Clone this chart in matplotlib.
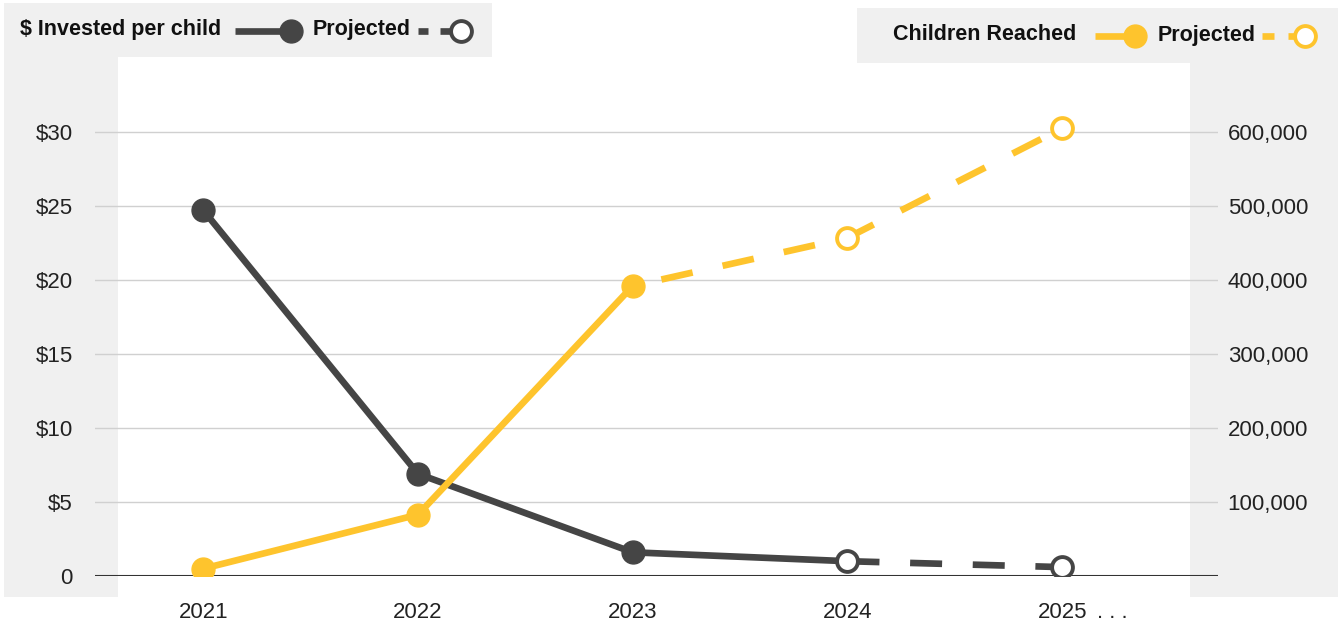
import matplotlib.pyplot as plt
from matplotlib.patches import Rectangle
from matplotlib.lines import Line2D
from matplotlib.ticker import FuncFormatter

# ----------------------------
# Data
# ----------------------------
years = ["2021", "2022", "2023", "2024", "2025"]
invested_per_child = [24.7, 6.9, 1.6, 1.0, 0.6]            # dollars
children_reached = [10000, 83000, 392000, 457000, 605000]   # children
last_actual = 2       # 2023 is the last actual year
last_solid_invest = 3  # invested line stays solid up to 2024

DARK = "#454545"
YELLOW = "#fec42d"
PANEL = "#f0f0f0"

plt.rcParams["font.family"] = ["Liberation Sans", "DejaVu Sans"]

W, H = 1338, 625
fig = plt.figure(figsize=(W / 100, H / 100), dpi=100)


def px_rect(x0, y0, x1, y1):
    # rectangle from pixel coords (top-left origin) in figure fraction
    return Rectangle((x0 / W, 1 - y1 / H), (x1 - x0) / W, (y1 - y0) / H,
                     transform=fig.transFigure, facecolor=PANEL,
                     edgecolor="none", zorder=-5)


# gray side panels and legend boxes
for r in [(4, 3, 118, 597), (4, 3, 492, 57),
          (1190, 8, 1338, 597), (857, 8, 1338, 63)]:
    fig.patches.append(px_rect(*r))

# axes placement
ymax = 33.0
ax = fig.add_axes([95 / W, (H - 576) / H, (1218 - 95) / W, (576 - 87.6) / H])
ax.set_facecolor("none")
ax2 = ax.twinx()
ax2.set_facecolor("none")

x = list(range(len(years)))
ax.set_xlim(-0.505, 4.726)
ax.set_ylim(0, ymax)
ax2.set_ylim(0, ymax * 20000)

for a in (ax, ax2):
    for s in a.spines.values():
        s.set_visible(False)

ax.axhline(0, color="#333333", lw=1.5, zorder=1)
ax.set_yticks([0, 5, 10, 15, 20, 25, 30])
ax.yaxis.set_major_formatter(FuncFormatter(lambda v, p: "0" if v == 0 else f"${v:.0f}"))
ax.grid(axis="y", color="#d0d0d0", lw=1)
ax.set_axisbelow(True)
ax.tick_params(axis="y", length=0, pad=16, labelsize=16, labelcolor="#222222")
ax.set_xticks(x)
ax.set_xticklabels(years)
ax.tick_params(axis="x", length=0, pad=19, labelsize=16, labelcolor="#222222")
ax.annotate(". . .", xy=(4, 0), xycoords=("data", "axes fraction"),
            xytext=(25, -19), textcoords="offset points", ha="left", va="top",
            fontsize=16, color="#222222")

ax2.set_yticks([100000, 200000, 300000, 400000, 500000, 600000])
ax2.yaxis.set_major_formatter(FuncFormatter(lambda v, p: f"{v:,.0f}"))
ax2.tick_params(axis="y", length=0, pad=7, labelsize=16, labelcolor="#222222")

lw = 4.8
ms = 16.5
dash = (0, (4.8, 4.6))

# $ invested per child (dark)
ax.plot(x[:last_solid_invest + 1], invested_per_child[:last_solid_invest + 1],
        color=DARK, lw=lw, solid_capstyle="butt", zorder=3)
ax.plot(x[last_solid_invest:], invested_per_child[last_solid_invest:],
        color=DARK, lw=lw, linestyle=dash, zorder=3)
ax.plot(x[:last_actual + 1], invested_per_child[:last_actual + 1], "o",
        color=DARK, ms=ms, zorder=4)
ax.plot(x[last_actual + 1:], invested_per_child[last_actual + 1:], "o",
        mfc="white", mec=DARK, mew=2.8, ms=ms - 1.5, zorder=4)

# children reached (yellow)
ax2.plot(x[:last_actual + 1], children_reached[:last_actual + 1],
         color=YELLOW, lw=lw, zorder=3)
ax2.plot(x[last_actual:], children_reached[last_actual:],
         color=YELLOW, lw=lw, linestyle=(5, (4.8, 4.6)), zorder=3)
ax2.plot(x[:last_actual + 1], children_reached[:last_actual + 1], "o",
         color=YELLOW, ms=ms, zorder=4)
ax2.plot(x[last_actual + 1:], children_reached[last_actual + 1:], "o",
         mfc="white", mec=YELLOW, mew=2.8, ms=ms - 1.5, zorder=4)


# ----------------------------
# Legends, drawn by hand
# ----------------------------
def fx(px):
    return px / W


def fy(py):
    return 1 - py / H


def seg(x0, x1, y, color):
    fig.add_artist(Line2D([fx(x0), fx(x1)], [fy(y), fy(y)], color=color, lw=lw,
                          solid_capstyle="butt", transform=fig.transFigure))


def legend_row(y, title, x_title, x_line, x_dot, x_proj, x_dash, x_stub, x_open, color):
    fig.text(fx(x_title), fy(y), title, fontsize=15.5, fontweight="bold",
             color="#111111", va="center", ha="left")
    seg(x_line, x_dot, y + 1, color)
    fig.add_artist(Line2D([fx(x_dot)], [fy(y + 1)], marker="o", color=color,
                          ms=ms, transform=fig.transFigure))
    fig.text(fx(x_proj), fy(y), "Projected", fontsize=15.5, fontweight="bold",
             color="#111111", va="center", ha="left")
    seg(x_dash[0], x_dash[1], y + 1, color)
    seg(x_stub, x_open, y + 1, color)
    fig.add_artist(Line2D([fx(x_open)], [fy(y + 1)], marker="o", mfc="white",
                          mec=color, mew=2.8, ms=ms - 1.5,
                          transform=fig.transFigure))


legend_row(30, "$ Invested per child", 20, 235, 291, 313, (418, 428), 440, 461, DARK)
legend_row(35, "Children Reached", 893, 1095, 1135, 1158, (1262, 1274), 1288, 1305, YELLOW)

fig.savefig("out.png", dpi=100)
